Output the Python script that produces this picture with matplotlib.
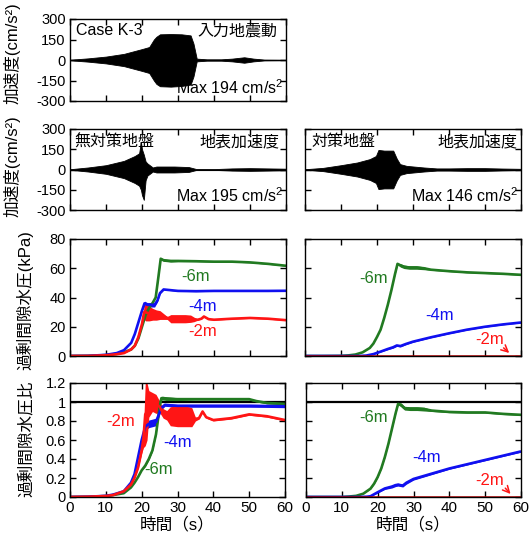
import matplotlib
matplotlib.use("Agg")
import matplotlib.pyplot as plt
import numpy as np

plt.rcParams['font.family'] = ['Liberation Sans', 'Noto Sans CJK JP']
plt.rcParams['axes.unicode_minus'] = False
plt.rcParams['mathtext.fontset'] = 'custom'
plt.rcParams['mathtext.rm'] = 'Liberation Sans'
plt.rcParams['mathtext.it'] = 'Liberation Sans'
plt.rcParams['mathtext.default'] = 'regular'

# ---------------- data ----------------
# acceleration envelopes (cm/s^2): time nodes, upper and lower envelope
inp_t = [0, 5, 10, 15, 20, 22, 23.3, 24, 25, 28, 31, 33.5, 34.3, 35.2, 38, 42, 45, 48.4, 51, 54, 60]
inp_up = [2, 12, 25, 45, 80, 95, 150, 170, 188, 190, 188, 180, 120, 10, 5, 5, 10, 20, 10, 3, 2]
inp_lo = [-2, -12, -25, -45, -80, -95, -150, -175, -192, -195, -190, -180, -120, -10, -5, -5, -10, -20, -10, -3, -2]

snc_t = [0, 5, 10, 15, 18, 19.2, 19.7, 20.0, 20.5, 21.0, 21.5, 23, 24, 29, 33, 35, 40, 45, 50, 55, 60]
snc_up = [2, 15, 32, 64, 100, 120, 205, 150, 110, 60, 45, 15, 22, 22, 18, 4, 3, 8, 10, 8, 6]
snc_lo = [-2, -15, -32, -64, -100, -120, -150, -190, -225, -80, -45, -15, -22, -22, -18, -4, -3, -8, -10, -8, -6]

sc_t = [0, 5, 10, 14.5, 18, 19.7, 20.4, 22, 24.5, 25.5, 26.4, 28.2, 33, 36.6, 40, 45, 50, 55, 60]
sc_up = [2, 12, 32, 52, 77, 100, 145, 140, 140, 80, 40, 27, 15, 8, 8, 10, 10, 7, 5]
sc_lo = [-2, -12, -32, -52, -77, -100, -145, -140, -140, -80, -40, -27, -15, -8, -8, -10, -10, -7, -5]

# excess pore water pressure (kPa), no countermeasure
p_nc_g_t = [0, 5, 10, 13, 15, 17, 18, 19, 20, 21, 22, 23, 23.8, 24.5, 25.2, 26, 28, 30, 35, 40, 45, 50, 55, 60]
p_nc_g_v = [0, 0.1, 0.6, 1.5, 2.5, 4.5, 7, 12, 20, 28, 33, 36.5, 40, 53, 66.5, 65.5, 65, 65, 64.8, 64.5, 64.5, 64, 63, 61.7]
p_nc_g_b = [0, 0, 0, 0, 0, 0, 0, 0, 0, 0, 0, 0, 0, 0.5, 0.8, 0.8, 0.8, 0.5, 0.3, 0.3, 0.3, 0.3, 0.3, 0.3]
p_nc_b_t = [0, 5, 10, 13, 15, 17, 18, 19, 20, 20.7, 21.5, 22.5, 23.5, 24.3, 25, 26, 28, 30, 35, 40, 45, 50, 55, 60]
p_nc_b_v = [0, 0.1, 0.8, 2, 4, 9, 15, 23, 31, 36, 35, 35, 35, 38, 43, 45.5, 45, 44.5, 44.3, 44.5, 44.5, 44.5, 44.5, 44.6]
p_nc_b_b = [0, 0, 0, 0, 0, 0, 0, 0, 0.5, 1.5, 1.5, 1.5, 1.5, 1.0, 0.5, 0.4, 0.3, 0.3, 0.3, 0.3, 0.3, 0.3, 0.3, 0.3]
p_nc_r_t = [0, 5, 10, 13, 15, 17, 18, 19, 20, 20.6, 21, 22, 23, 24, 25, 26, 27, 28, 30, 32, 33.5, 34.5, 35.5, 36.5, 37.2, 38.5, 40, 45, 50, 55, 60]
p_nc_r_v = [0, 0.05, 0.5, 1.2, 2, 4.5, 7, 13, 22, 30, 30, 29, 28.5, 28, 28, 27, 26, 25.5, 25.5, 25.5, 25.5, 25, 24.8, 25.5, 27, 25.2, 24.8, 25.5, 26, 25.5, 24.5]
p_nc_r_b = [0, 0, 0, 0, 0, 0, 0, 0.3, 1, 5, 6, 5, 4, 3.5, 3, 2, 1, 2.8, 2.8, 2.8, 2.5, 1.5, 0.3, 0.3, 0.3, 0.3, 0.3, 0.3, 0.3, 0.3, 0.3]

# excess pore water pressure (kPa), countermeasure
p_c_g_t = [0, 5, 10, 12, 14, 16, 18, 19, 20, 21, 22, 23, 24, 25, 25.7, 26.5, 27.5, 29, 31, 33, 35, 40, 45, 50, 55, 60]
p_c_g_v = [0, 0, 0.1, 0.4, 1, 2.5, 5.5, 8.5, 13, 18, 26, 35, 45, 56, 63, 62, 61, 60.5, 60.5, 60, 59, 58, 57.2, 56.7, 56.2, 55.5]
p_c_g_b = [0, 0, 0, 0, 0, 0, 0, 0, 0, 0, 0, 0, 0, 0.3, 0.5, 1.2, 1.2, 1.2, 1.2, 1.0, 0.4, 0.3, 0.3, 0.3, 0.3, 0.3]
p_c_b_t = [0, 10, 15, 17, 19, 21, 23, 24.5, 25.5, 26.5, 28, 30, 35, 40, 45, 50, 55, 60]
p_c_b_v = [0, 0, 0, 0.3, 1.3, 3, 4.8, 6, 7.2, 6.8, 8.2, 9.8, 12.8, 15.5, 18, 20, 21.6, 22.9]
p_c_b_b = [0, 0, 0, 0, 0.2, 0.3, 0.5, 0.6, 0.6, 0.6, 0.5, 0.4, 0.3, 0.3, 0.3, 0.3, 0.3, 0.3]
p_c_r_t = [0, 60]
p_c_r_v = [0.15, 0.15]

# excess pore water pressure ratio, no countermeasure
r_nc_r_t = [0, 5, 10, 12, 15, 17, 18, 19, 20, 20.5, 21, 21.5, 22, 23, 24, 25, 26, 27, 28, 30, 32, 34, 35, 36, 37, 38, 40, 45, 50, 55, 60]
r_nc_r_v = [0, 0.003, 0.01, 0.02, 0.06, 0.13, 0.2, 0.31, 0.49, 0.62, 0.87, 0.9, 0.98, 1.0, 0.98, 0.95, 0.88, 0.86, 0.85, 0.85, 0.85, 0.84, 0.82, 0.83, 0.9, 0.84, 0.81, 0.83, 0.87, 0.85, 0.81]
r_nc_r_b = [0, 0, 0, 0, 0, 0, 0, 0.01, 0.03, 0.1, 0.33, 0.3, 0.14, 0.1, 0.1, 0.06, 0.05, 0.05, 0.1, 0.11, 0.11, 0.1, 0.02, 0.01, 0.01, 0.01, 0.01, 0.01, 0.01, 0.01, 0.01]
r_nc_b_t = [0, 5, 10, 12, 15, 17, 18, 19, 20, 21, 22, 23, 24, 24.7, 25.5, 26.5, 28, 30, 35, 40, 45, 50, 55, 60]
r_nc_b_v = [0, 0.003, 0.012, 0.025, 0.06, 0.15, 0.24, 0.42, 0.6, 0.74, 0.77, 0.78, 0.79, 0.86, 0.94, 0.97, 0.965, 0.96, 0.96, 0.96, 0.96, 0.96, 0.958, 0.955]
r_nc_b_b = [0, 0, 0, 0, 0, 0, 0, 0, 0.01, 0.04, 0.04, 0.04, 0.04, 0.03, 0.02, 0.015, 0.015, 0.015, 0.015, 0.015, 0.015, 0.015, 0.015, 0.015]
r_nc_g_t = [0, 5, 10, 12, 15, 17, 18, 19, 20, 21, 22, 23, 24, 24.5, 25, 25.5, 26, 27, 30, 35, 40, 45, 50, 52, 55, 60]
r_nc_g_v = [0, 0.002, 0.01, 0.02, 0.04, 0.1, 0.15, 0.21, 0.28, 0.33, 0.4, 0.49, 0.66, 0.8, 0.95, 1.04, 1.04, 1.035, 1.03, 1.03, 1.03, 1.03, 1.03, 1.01, 0.99, 0.98]
r_nc_g_b = [0, 0, 0, 0, 0, 0, 0, 0, 0, 0.01, 0.01, 0.01, 0.01, 0.01, 0.015, 0.02, 0.02, 0.02, 0.015, 0.01, 0.01, 0.01, 0.01, 0.01, 0.01, 0.01]

# excess pore water pressure ratio, countermeasure
r_c_g_t = [0, 10, 12, 14, 16, 18, 19, 20, 21, 22, 23, 24, 25, 25.7, 26.5, 27.5, 29, 31, 33, 35, 40, 45, 50, 55, 60]
r_c_g_v = [0, 0, 0.005, 0.012, 0.035, 0.088, 0.14, 0.21, 0.3, 0.42, 0.56, 0.72, 0.88, 0.98, 0.97, 0.935, 0.93, 0.93, 0.925, 0.91, 0.895, 0.89, 0.89, 0.875, 0.865]
r_c_g_b = [0, 0, 0, 0, 0, 0.005, 0.005, 0.005, 0.005, 0.005, 0.005, 0.005, 0.007, 0.01, 0.02, 0.02, 0.02, 0.02, 0.02, 0.01, 0.007, 0.007, 0.007, 0.007, 0.007]
r_c_b_t = [0, 15, 17, 18, 20, 22, 24, 25, 25.7, 27, 28, 30, 35, 40, 45, 50, 55, 60]
r_c_b_v = [0, 0, 0.003, 0.008, 0.05, 0.09, 0.11, 0.125, 0.13, 0.12, 0.15, 0.19, 0.245, 0.3, 0.345, 0.39, 0.435, 0.48]
r_c_b_b = [0, 0, 0, 0.003, 0.008, 0.01, 0.015, 0.015, 0.015, 0.015, 0.015, 0.012, 0.01, 0.008, 0.008, 0.008, 0.008, 0.008]
r_c_r_t = [0, 60]
r_c_r_v = [0.002, 0.002]

acc_ticks = [-300, -150, 0, 150, 300]
kpa_ticks = [0, 20, 40, 60, 80]
ratio_ticks = [0, 0.2, 0.4, 0.6, 0.8, 1.0, 1.2]
ratio_ticklabels = ['0', '0.2', '0.4', '0.6', '0.8', '1', '1.2']
time_ticks = [0, 10, 20, 30, 40, 50, 60]

GREEN = '#217a21'
BLUE = '#1010f0'
RED = '#ff1515'

W, H = 531, 539
fig = plt.figure(figsize=(W / 100, H / 100), dpi=100)


def rect(l, t, r, b):
    return [l / W, 1 - b / H, (r - l) / W, (b - t) / H]


def style(ax, yticks, ylim, ylabels=True, xlabels=False, yticklabels=None):
    ax.set_xlim(0, 60)
    ax.set_ylim(*ylim)
    ax.set_xticks(time_ticks)
    ax.set_yticks(yticks)
    if yticklabels is not None:
        ax.set_yticklabels(yticklabels)
    ax.tick_params(direction='in', top=True, right=True, length=4, width=1,
                   pad=3, labelleft=ylabels, labelbottom=xlabels)
    ax.tick_params(axis='y', labelsize=10.5)
    ax.tick_params(axis='x', labelsize=11)
    for s in ax.spines.values():
        s.set_linewidth(1.0)


def acc_panel(ax, t, up, lo):
    ax.fill_between(t, lo, up, color='black', lw=0.6)
    ax.plot([0, 60], [0, 0], color='black', lw=0.8)


def pp_curve(ax, t, v, b, color):
    t = np.asarray(t, float)
    v = np.asarray(v, float)
    b = np.asarray(b, float)
    ax.fill_between(t, v - b, v + b, color=color, lw=0)
    ax.plot(t, v, color=color, lw=1.9, solid_capstyle='butt')


fs_txt = 11.5
fs_lab = 12

# panel 1: input motion
ax1 = fig.add_axes(rect(70, 19, 286, 101))
acc_panel(ax1, inp_t, inp_up, inp_lo)
style(ax1, acc_ticks, (-300, 300))
ax1.text(0.03, 0.86, 'Case K-3', transform=ax1.transAxes, fontsize=fs_txt, va='center', ha='left')
ax1.text(0.96, 0.86, '入力地震動', transform=ax1.transAxes, fontsize=fs_txt, va='center', ha='right')
ax1.text(0.99, 0.16, 'Max 194 cm/s$^2$', transform=ax1.transAxes, fontsize=fs_txt, va='center', ha='right')

# panel 2 left: surface acceleration no countermeasure
ax2 = fig.add_axes(rect(70, 129, 286, 210))
acc_panel(ax2, snc_t, snc_up, snc_lo)
style(ax2, acc_ticks, (-300, 300))
ax2.text(0.02, 0.84, '無対策地盤', transform=ax2.transAxes, fontsize=fs_txt, va='center', ha='left')
ax2.text(0.97, 0.84, '地表加速度', transform=ax2.transAxes, fontsize=fs_txt, va='center', ha='right')
ax2.text(0.99, 0.18, 'Max 195 cm/s$^2$', transform=ax2.transAxes, fontsize=fs_txt, va='center', ha='right')

# panel 2 right: surface acceleration countermeasure
ax3 = fig.add_axes(rect(305, 129, 521, 210))
acc_panel(ax3, sc_t, sc_up, sc_lo)
style(ax3, acc_ticks, (-300, 300), ylabels=False)
ax3.text(0.03, 0.84, '対策地盤', transform=ax3.transAxes, fontsize=fs_txt, va='center', ha='left')
ax3.text(0.985, 0.84, '地表加速度', transform=ax3.transAxes, fontsize=fs_txt, va='center', ha='right')
ax3.text(0.99, 0.18, 'Max 146 cm/s$^2$', transform=ax3.transAxes, fontsize=fs_txt, va='center', ha='right')

# panel 3 left: pore pressure (kPa), no countermeasure
ax4 = fig.add_axes(rect(70, 239, 286, 356))
pp_curve(ax4, p_nc_g_t, p_nc_g_v, p_nc_g_b, GREEN)
pp_curve(ax4, p_nc_b_t, p_nc_b_v, p_nc_b_b, BLUE)
pp_curve(ax4, p_nc_r_t, p_nc_r_v, p_nc_r_b, RED)
style(ax4, kpa_ticks, (0, 80))
ax4.text(35, 54.4, '-6m', color=GREEN, fontsize=fs_lab, ha='center', va='center')
ax4.text(36.9, 33.8, '-4m', color=BLUE, fontsize=fs_lab, ha='center', va='center')
ax4.text(36.9, 16.7, '-2m', color=RED, fontsize=fs_lab, ha='center', va='center')

# panel 3 right: pore pressure (kPa), countermeasure
ax5 = fig.add_axes(rect(305, 239, 521, 356))
pp_curve(ax5, p_c_g_t, p_c_g_v, p_c_g_b, GREEN)
pp_curve(ax5, p_c_b_t, p_c_b_v, p_c_b_b, BLUE)
ax5.plot(p_c_r_t, p_c_r_v, color='#c00000', lw=1.8)
style(ax5, kpa_ticks, (0, 80), ylabels=False)
ax5.text(19, 53, '-6m', color=GREEN, fontsize=fs_lab, ha='center', va='center')
ax5.text(37.5, 28, '-4m', color=BLUE, fontsize=fs_lab, ha='center', va='center')
ax5.text(51.4, 11.4, '-2m', color=RED, fontsize=fs_lab, ha='center', va='center')
ax5.annotate('', xy=(57.3, 0.8), xytext=(54.6, 6.8),
             arrowprops=dict(arrowstyle='->', color=RED, lw=1.1, mutation_scale=12))

# panel 4 left: pore pressure ratio, no countermeasure
ax6 = fig.add_axes(rect(70, 383, 285, 497))
ax6.plot([0, 60], [1, 1], color='black', lw=1.6, zorder=1)
pp_curve(ax6, r_nc_g_t, r_nc_g_v, r_nc_g_b, GREEN)
pp_curve(ax6, r_nc_b_t, r_nc_b_v, r_nc_b_b, BLUE)
pp_curve(ax6, r_nc_r_t, r_nc_r_v, r_nc_r_b, RED)
style(ax6, ratio_ticks, (0, 1.2), xlabels=True, yticklabels=ratio_ticklabels)
ax6.text(14.1, 0.79, '-2m', color=RED, fontsize=fs_lab, ha='center', va='center')
ax6.text(30, 0.575, '-4m', color=BLUE, fontsize=fs_lab, ha='center', va='center')
ax6.text(24.8, 0.29, '-6m', color=GREEN, fontsize=fs_lab, ha='center', va='center')
ax6.set_xlabel('時間（s）', fontsize=fs_lab, labelpad=1)

# panel 4 right: pore pressure ratio, countermeasure
ax7 = fig.add_axes(rect(306, 383, 521, 497))
ax7.plot([0, 60], [1, 1], color='black', lw=1.6, zorder=1)
pp_curve(ax7, r_c_g_t, r_c_g_v, r_c_g_b, GREEN)
pp_curve(ax7, r_c_b_t, r_c_b_v, r_c_b_b, BLUE)
ax7.plot(r_c_r_t, r_c_r_v, color='#c00000', lw=1.8)
style(ax7, ratio_ticks, (0, 1.2), ylabels=False, xlabels=True)
ax7.text(18.8, 0.84, '-6m', color=GREEN, fontsize=fs_lab, ha='center', va='center')
ax7.text(33.7, 0.42, '-4m', color=BLUE, fontsize=fs_lab, ha='center', va='center')
ax7.text(51.3, 0.175, '-2m', color=RED, fontsize=fs_lab, ha='center', va='center')
ax7.annotate('', xy=(57.6, 0.01), xytext=(55.1, 0.115),
             arrowprops=dict(arrowstyle='->', color=RED, lw=1.1, mutation_scale=12))
ax7.set_xlabel('時間（s）', fontsize=fs_lab, labelpad=1)

# y labels placed in figure pixel coordinates
def ylab(x, y, s):
    fig.text(x / W, 1 - y / H, s, rotation=90, ha='center', va='center', fontsize=fs_lab)

ylab(12, 53, '加速度(cm/s²)')
ylab(12, 166, '加速度(cm/s²)')
ylab(25, 300, '過剰間隙水圧(kPa)')
ylab(26, 439, '過剰間隙水圧比')

fig.savefig('out.png', dpi=100)
